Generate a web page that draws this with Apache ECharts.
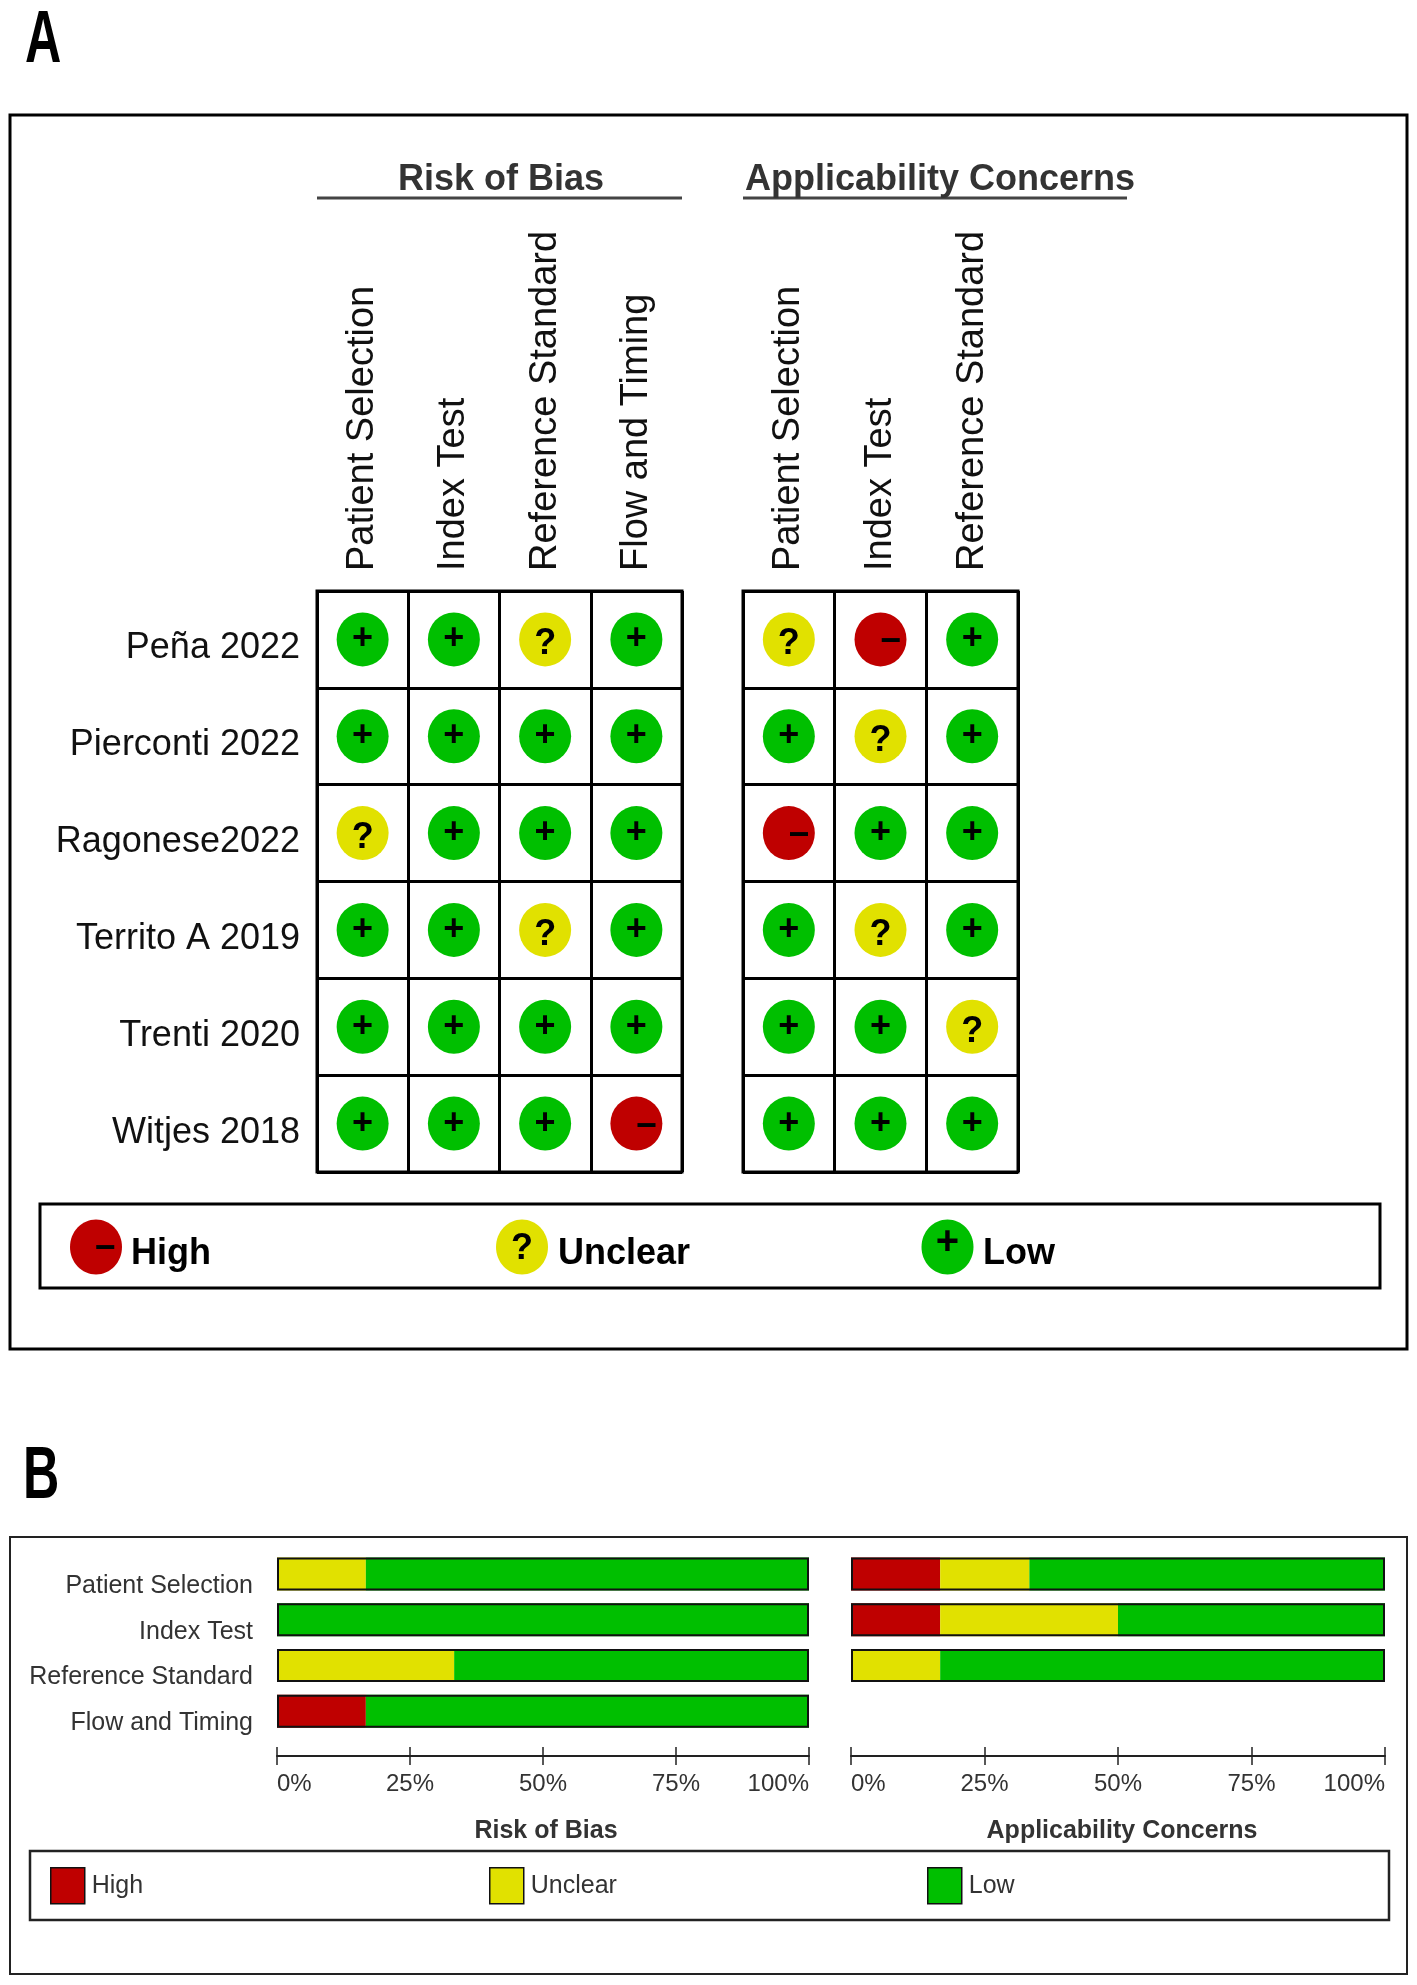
<!DOCTYPE html>
<html><head><meta charset="utf-8">
<style>html,body{margin:0;padding:0;background:#fff}#c{width:1417px;height:1985px}</style>
<script src="https://cdn.jsdelivr.net/npm/echarts@6/dist/echarts.min.js"></script>
</head><body><div id="c"></div>
<script>
const FONT = '"Liberation Sans", Arial, sans-serif';
const COLORS = {High:'#BF0000', Unclear:'#E1E100', Low:'#00BF00'};
const SIGNS = {High:'−', Unclear:'?', Low:'+'};
const STATUS = {H:'High', U:'Unclear', L:'Low'};

const studies = ['Peña 2022','Pierconti 2022','Ragonese2022','Territo A 2019','Trenti 2020','Witjes 2018'];
const robDomains = ['Patient Selection','Index Test','Reference Standard','Flow and Timing'];
const acDomains = ['Patient Selection','Index Test','Reference Standard'];
const robJudgements = [
  ['L','L','U','L'],
  ['L','L','L','L'],
  ['U','L','L','L'],
  ['L','L','U','L'],
  ['L','L','L','L'],
  ['L','L','L','H']
];
const acJudgements = [
  ['U','H','L'],
  ['L','U','L'],
  ['H','L','L'],
  ['L','U','L'],
  ['L','L','U'],
  ['L','L','L']
];

const summaryDomains = ['Patient Selection','Index Test','Reference Standard','Flow and Timing'];
const robHigh = [0,0,0,16.7];
const robUnclear = [16.7,0,33.3,0];
const robLow = [83.3,100,66.7,83.3];
const acHigh = [16.7,16.7,0,null];
const acUnclear = [16.7,33.3,16.7,null];
const acLow = [66.6,50,83.3,null];
const percentTicks = ['0%','25%','50%','75%','100%'];

function signLabel(st){
  const tweak = {
    High:{fontSize:36, offset:[10,3]},
    Unclear:{fontSize:36, offset:[0,5]},
    Low:{fontSize:36, offset:[0,0]}
  }[st];
  return {show:true, position:'inside', formatter:SIGNS[st], color:'#000', fontFamily:FONT, fontWeight:'bold', ...tweak};
}

function matrixSeries(rows, gridIdx){
  return ['High','Unclear','Low'].map(st=>{
    const pts=[];
    rows.forEach((r,y)=>r.forEach((v,x)=>{ if(STATUS[v]===st) pts.push([x,y]); }));
    return {type:'scatter', name:st, xAxisIndex:gridIdx, yAxisIndex:gridIdx, data:pts,
      symbol:'circle', symbolSize:[52,54], itemStyle:{color:COLORS[st], opacity:1}, label:signLabel(st), silent:true, z:5};
  });
}

function barSeries(h,u,l,gridIdx){
  const idx = gridIdx;
  const out = [['High',h],['Unclear',u],['Low',l]].map(([n,d])=>({
    type:'bar', name:n, stack:'s'+gridIdx, xAxisIndex:idx, yAxisIndex:idx, data:d, barWidth:33, barGap:'-100%',
    itemStyle:{color:COLORS[n]}, silent:true, z:2
  }));
  out.push({type:'bar', name:'outline', xAxisIndex:idx, yAxisIndex:idx, barWidth:33, barGap:'-100%',
    data:h.map(v=>v===null?null:100), itemStyle:{color:'rgba(0,0,0,0)', borderColor:'#111', borderWidth:2}, silent:true, z:3});
  return out;
}

const matrixX = (cats)=>({
  type:'category', data:cats, position:'top',
  axisLine:{show:false}, axisTick:{show:false},
  splitLine:{show:true, lineStyle:{color:'#000', width:3}},
  axisLabel:{rotate:-90, interval:0, margin:20, fontFamily:FONT, fontSize:38, color:'#111'}
});
const matrixY = (show)=>({
  type:'category', data:studies, inverse:true,
  axisLine:{show:false}, axisTick:{show:false},
  splitLine:{show:true, lineStyle:{color:'#000', width:3}},
  axisLabel:{show:show, interval:0, margin:17, fontFamily:FONT, fontSize:36, color:'#111', verticalAlign:'top', lineHeight:18}
});
const summaryX = ()=>({
  type:'value', min:0, max:100, interval:25, position:'bottom', offset:22,
  axisLine:{show:true, lineStyle:{color:'#222', width:2}},
  axisTick:{show:true, length:9, inside:false, lineStyle:{color:'#222', width:1.5}},
  splitLine:{show:false},
  axisLabel:{margin:16, fontFamily:FONT, fontSize:24, color:'#333', alignMinLabel:'left', alignMaxLabel:'right',
    formatter:(v)=>percentTicks[v/25]}
});
const summaryXInnerTicks = (gridIndex)=>({
  gridIndex, type:'value', min:0, max:100, interval:25, position:'bottom', offset:22,
  axisLine:{show:false},
  axisTick:{show:true, length:9, inside:true, lineStyle:{color:'#222', width:1.5}},
  splitLine:{show:false}, axisLabel:{show:false}
});
const summaryY = (show)=>({
  type:'category', data:summaryDomains, inverse:true,
  axisLine:{show:false}, axisTick:{show:false}, splitLine:{show:false},
  axisLabel:{show:show, interval:0, margin:24, fontFamily:FONT, fontSize:25, color:'#333', verticalAlign:'top', lineHeight:24}
});

function frame(x,y,w,h,lw,color){
  return {type:'rect', shape:{x,y,width:w,height:h}, style:{fill:'none', stroke:color||'#000', lineWidth:lw}, silent:true};
}
function txt(x,y,text,size,opts){
  return Object.assign({type:'text', x, y, style:Object.assign({text, fontFamily:FONT, fontSize:size, fill:'#000', verticalAlign:'middle'}, opts||{})}, {silent:true});
}
function legendDot(cx,cy,st){
  const dx = st==='High'?9:0;
  const dy = st==='Low'?-4:2;
  return [
    {type:'ellipse', shape:{cx,cy,rx:26,ry:27.5}, style:{fill:COLORS[st]}, silent:true},
    txt(cx+dx, cy+dy, SIGNS[st], st==='Low'?40:36, {align:'center', fontWeight:'bold'})
  ];
}

const graphic = [
  frame(10,115,1397,1234,3),
  frame(40,1204,1340,84,3),
  frame(10,1537,1397,437,2,'#222'),
  frame(30,1851,1359,69,2.5,'#222'),
  {type:'line', shape:{x1:317,y1:198,x2:682,y2:198}, style:{stroke:'#444', lineWidth:3}, silent:true},
  {type:'line', shape:{x1:743,y1:198,x2:1127,y2:198}, style:{stroke:'#444', lineWidth:3}, silent:true},
  txt(501,180,'Risk of Bias',36,{align:'center', fontWeight:'bold', fill:'#333'}),
  txt(940,180,'Applicability Concerns',36,{align:'center', fontWeight:'bold', fill:'#333'}),
  {type:'text', x:25, y:42, scaleX:0.68, style:{text:'A', fontFamily:FONT, fontSize:74, fontWeight:'bold', fill:'#000', verticalAlign:'middle'}, silent:true},
  {type:'text', x:23, y:1478, scaleX:0.68, style:{text:'B', fontFamily:FONT, fontSize:74, fontWeight:'bold', fill:'#000', verticalAlign:'middle'}, silent:true},
  ...legendDot(96,1247,'High'),
  ...legendDot(522,1247,'Unclear'),
  ...legendDot(947.5,1247,'Low'),
  txt(131,1254,'High',36,{fontWeight:'bold'}),
  txt(558,1254,'Unclear',36,{fontWeight:'bold'}),
  txt(983,1254,'Low',36,{fontWeight:'bold'}),
  txt(546,1831,'Risk of Bias',25,{align:'center', fontWeight:'bold', fill:'#333'}),
  txt(1122,1831,'Applicability Concerns',25,{align:'center', fontWeight:'bold', fill:'#333'})
];

const legendItem = (name,left)=>({
  data:[name], left, top:1867, itemWidth:34, itemHeight:36, orient:'horizontal', padding:0, itemGap:0,
  icon:'rect', selectedMode:false, itemStyle:{borderColor:'#111', borderWidth:1.5},
  textStyle:{fontFamily:FONT, fontSize:25, color:'#333', padding:[5,0,0,2]}
});

const chart = echarts.init(document.getElementById('c'), null, {width:1417, height:1985, renderer:'canvas'});
chart.setOption({
  animation:false,
  backgroundColor:'#fff',
  textStyle:{fontFamily:FONT},
  graphic:{elements:graphic},
  legend:[legendItem('High',50),legendItem('Unclear',489),legendItem('Low',927)],
  grid:[
    {left:317, top:591, width:365, height:581, show:true, borderColor:'#000', borderWidth:3, containLabel:false},
    {left:743, top:591, width:275, height:581, show:true, borderColor:'#000', borderWidth:3, containLabel:false},
    {left:277, top:1551, width:532, height:183, containLabel:false},
    {left:851, top:1551, width:534, height:183, containLabel:false}
  ],
  xAxis:[
    Object.assign(matrixX(robDomains),{gridIndex:0}),
    Object.assign(matrixX(acDomains),{gridIndex:1}),
    Object.assign(summaryX(),{gridIndex:2}),
    Object.assign(summaryX(),{gridIndex:3}),
    summaryXInnerTicks(2),
    summaryXInnerTicks(3)
  ],
  yAxis:[
    Object.assign(matrixY(true),{gridIndex:0}),
    Object.assign(matrixY(false),{gridIndex:1}),
    Object.assign(summaryY(true),{gridIndex:2}),
    Object.assign(summaryY(false),{gridIndex:3})
  ],
  series:[
    ...matrixSeries(robJudgements,0),
    ...matrixSeries(acJudgements,1),
    ...barSeries(robHigh,robUnclear,robLow,2),
    ...barSeries(acHigh,acUnclear,acLow,3)
  ]
});
</script></body></html>
